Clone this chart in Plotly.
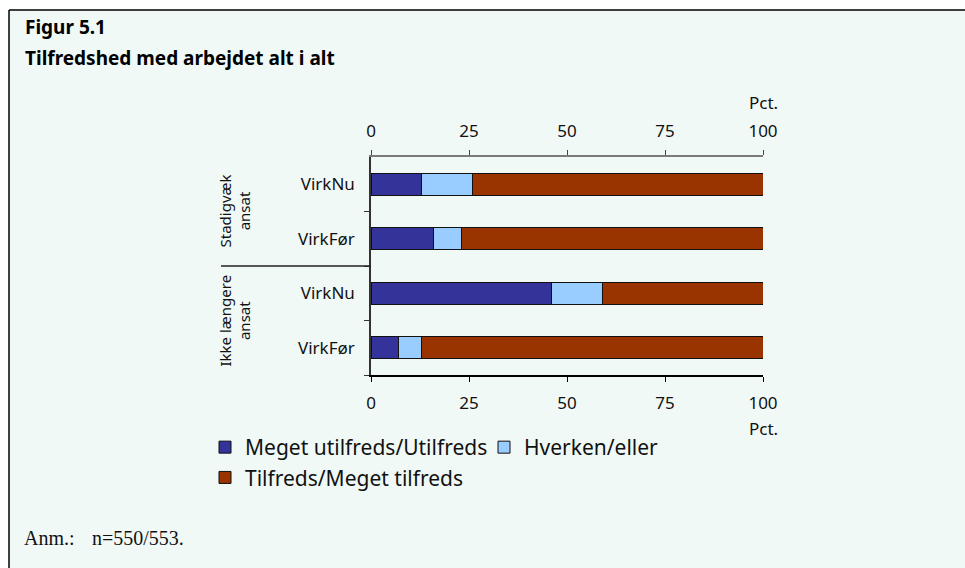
import plotly.graph_objects as go

# ---- data ----
groups = ["Stadigvæk ansat", "Stadigvæk ansat", "Ikke længere ansat", "Ikke længere ansat"]
rows = ["VirkNu", "VirkFør", "VirkNu", "VirkFør"]
series_names = ["Meget utilfreds/Utilfreds", "Hverken/eller", "Tilfreds/Meget tilfreds"]
utilfreds = [13, 16, 46, 7]
hverken = [13, 7, 13, 6]
tilfreds = [74, 77, 41, 87]
x_ticks = [0, 25, 50, 75, 100]
colors = ["#333399", "#99CCFF", "#993300"]

W, H = 965, 568
L, R, T, B = 371, 763, 157, 375
BG = "#F0F9F6"
FONT = "Noto Sans"

cats = [f"{g}|{r}" for g, r in zip(groups, rows)]

def px_x(px):
    return (px - L) / (R - L)

def px_y(py):
    return (B - py) / (B - T)

fig = go.Figure()
for name, vals, col in zip(series_names, [utilfreds, hverken, tilfreds], colors):
    fig.add_trace(go.Bar(
        y=cats, x=vals, name=name, orientation="h",
        marker=dict(color=col, line=dict(color="#111111", width=1)),
        hoverinfo="x+name",
    ))
# invisible trace for the top axis
fig.add_trace(go.Scatter(x=[0, 100], y=[cats[0], cats[0]], xaxis="x2", mode="markers",
                         marker=dict(opacity=0), showlegend=False, hoverinfo="skip"))

axis_font = dict(family=FONT, size=17, color="#111111")

fig.update_layout(
    width=W, height=H,
    margin=dict(l=L, r=W - R, t=T, b=H - B, pad=0),
    paper_bgcolor="white",
    plot_bgcolor=BG,
    barmode="stack",
    bargap=0.6,
    font=dict(family=FONT, color="#111111"),
    xaxis=dict(range=[0, 100], tickvals=x_ticks, showgrid=False, zeroline=False,
               showline=True, linecolor="#000000", linewidth=1.5,
               ticks="outside", ticklen=5, tickcolor="#000000", tickfont=axis_font,
               ticklabelstandoff=7, fixedrange=True),
    xaxis2=dict(range=[0, 100], tickvals=x_ticks, overlaying="x", side="top",
                showgrid=False, zeroline=False, showline=True, linecolor="#7a7a7a",
                linewidth=2, ticks="outside", ticklen=5, tickcolor="#444444",
                tickfont=axis_font, ticklabelstandoff=6, fixedrange=True),
    yaxis=dict(categoryorder="array", categoryarray=cats[::-1],
               tickmode="array", tickvals=cats, ticktext=rows,
               showgrid=False, zeroline=False, showline=True, linecolor="#333333",
               linewidth=1.5, ticks="outside", tickson="boundaries", ticklen=5,
               tickcolor="#333333", tickfont=axis_font, ticklabelstandoff=11,
               fixedrange=True),
    legend=dict(orientation="h", x=px_x(205), xanchor="left", y=px_y(427), yanchor="top",
                font=dict(family=FONT, size=21, color="#111111"),
                bgcolor="rgba(0,0,0,0)", entrywidth=234, traceorder="normal"),
    showlegend=True,
)

shapes = []
# mint panel
shapes.append(dict(type="rect", xref="paper", yref="paper", x0=px_x(9), x1=px_x(W + 5),
                   y0=px_y(H + 5), y1=px_y(10), fillcolor=BG, line=dict(width=0), layer="below"))
# top rule
shapes.append(dict(type="line", xref="paper", yref="paper", x0=px_x(9), x1=px_x(W + 5),
                   y0=px_y(10), y1=px_y(10), line=dict(color="#000000", width=1.5)))
# left rule
shapes.append(dict(type="line", xref="paper", yref="paper", x0=px_x(9), x1=px_x(9),
                   y0=px_y(10), y1=px_y(H + 5), line=dict(color="#000000", width=1.5)))
# group divider
shapes.append(dict(type="line", xref="paper", yref="paper", x0=px_x(221), x1=px_x(371),
                   y0=0.5, y1=0.5, line=dict(color="#222222", width=1.5)))
fig.update_layout(shapes=shapes)

ann = []
ann.append(dict(text="<b>Figur 5.1</b>", xref="paper", yref="paper", x=px_x(23), y=px_y(27),
                xanchor="left", yanchor="middle", showarrow=False,
                font=dict(family=FONT, size=19, color="#000000")))
ann.append(dict(text="<b>Tilfredshed med arbejdet alt i alt</b>", xref="paper", yref="paper",
                x=px_x(23), y=px_y(58), xanchor="left", yanchor="middle", showarrow=False,
                font=dict(family=FONT, size=19, color="#000000")))
ann.append(dict(text="Pct.", xref="paper", yref="paper", x=1, y=px_y(102),
                xanchor="center", yanchor="middle", showarrow=False, font=axis_font))
ann.append(dict(text="Pct.", xref="paper", yref="paper", x=1, y=px_y(428),
                xanchor="center", yanchor="middle", showarrow=False, font=axis_font))
ann.append(dict(text="Stadigvæk<br>ansat", xref="paper", yref="paper", x=px_x(234), y=0.75,
                xanchor="center", yanchor="middle", showarrow=False, textangle=-90,
                font=dict(family=FONT, size=15, color="#111111")))
ann.append(dict(text="Ikke længere<br>ansat", xref="paper", yref="paper", x=px_x(234), y=0.25,
                xanchor="center", yanchor="middle", showarrow=False, textangle=-90,
                font=dict(family=FONT, size=15, color="#111111")))
ann.append(dict(text="Anm.:", xref="paper", yref="paper", x=px_x(22), y=px_y(538),
                xanchor="left", yanchor="middle", showarrow=False,
                font=dict(family="Liberation Serif", size=20, color="#111111")))
ann.append(dict(text="n=550/553.", xref="paper", yref="paper", x=px_x(90), y=px_y(538),
                xanchor="left", yanchor="middle", showarrow=False,
                font=dict(family="Liberation Serif", size=20, color="#111111")))
fig.update_layout(annotations=ann)

fig.write_html("out.html", config={"displayModeBar": False},
               post_script="document.body.style.margin='0';document.body.style.overflow='hidden';")
